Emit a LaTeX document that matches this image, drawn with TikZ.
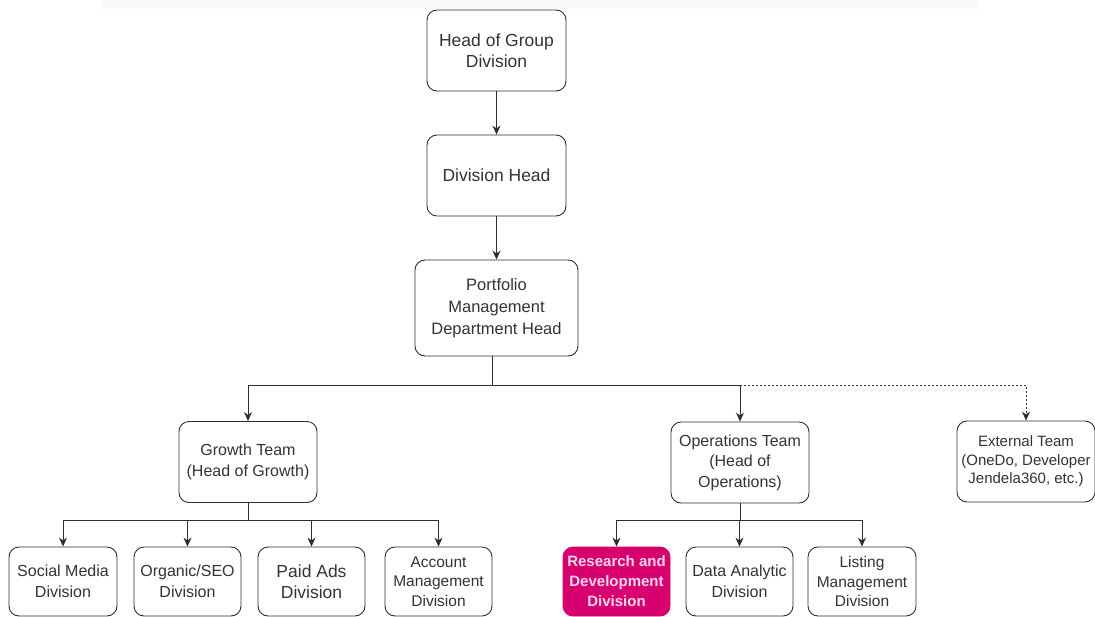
\documentclass[tikz,border=0pt]{standalone}
\usepackage{fontspec}
\setmainfont{Liberation Sans}
\usetikzlibrary{arrows.meta}
\definecolor{ln}{HTML}{2E2E2E}
\definecolor{txt}{HTML}{333333}
\definecolor{band}{HTML}{F8F9FB}
\definecolor{rdfill}{HTML}{D6006F}
\definecolor{rdtext}{HTML}{FAD7EA}
\begin{document}
\begin{tikzpicture}[x=1pt,y=-1pt,
  box/.style={draw=ln, line width=0.9pt, rounded corners=10pt, align=center,
    text=txt, inner sep=0pt, fill=white},
  big/.style={font=\fontsize{17.5}{21}\selectfont},
  mid/.style={font=\fontsize{16}{20.5}\selectfont},
  small/.style={font=\fontsize{15}{18.5}\selectfont},
  toprow/.style={box, minimum width=139pt, minimum height=81pt},
  team/.style={box, minimum width=138pt, minimum height=81pt},
  leaf/.style={box, minimum width=107pt, minimum height=69pt},
  arr/.style={-{Stealth[length=9pt,width=8pt]}, draw=ln, line width=1pt},
  dotarr/.style={arr, dash pattern=on 2pt off 2pt}]
\useasboundingbox (0,0) rectangle (1095,616);
\fill[band] (102,0) rectangle (979,9);

% upper chain
\node[toprow, big] (hg) at (496.5,50.5) {Head of Group\\Division};
\node[toprow, big] (dh) at (496.5,175.5) {Division Head};
\node[box, font=\fontsize{16.5}{22}\selectfont, minimum width=163pt, minimum height=96pt]
  (pm) at (496.5,308) {Portfolio\\Management\\Department Head};

% teams
\node[team, mid] (gt) at (248,462) {Growth Team\\(Head of Growth)};
\node[team, mid] (ops) at (740,462.5) {Operations Team\\(Head of\\Operations)};
\node[team, small] (ext) at (1026,461.5) {External Team\\(OneDo, Developer\\Jendela360, etc.)};

% divisions
\node[leaf, mid, minimum width=108pt] (sm) at (63,581.5) {Social Media\\Division};
\node[leaf, mid] (org) at (187.5,581.5) {Organic/SEO\\Division};
\node[leaf, big] (pa) at (311.5,581.5) {Paid Ads\\Division};
\node[leaf, small, font=\fontsize{15.5}{19.5}\selectfont] (am) at (438.5,581.5) {Account\\Management\\Division};
\node[leaf, fill=rdfill, draw=rdfill, text=rdtext, font=\bfseries\fontsize{15}{20}\selectfont]
  (rd) at (616.5,581.5) {Research and\\Development\\Division};
\node[leaf, mid] (da) at (739.5,581.5) {Data Analytic\\Division};
\node[leaf, mid, font=\fontsize{15.5}{19.5}\selectfont, minimum width=108pt] (lm) at (862,581.5) {Listing\\Management\\Division};

% bus coordinates
\coordinate (pmout) at (492,356);
\coordinate (bus1) at (492,385);
\coordinate (bus2) at (248,520);
\coordinate (bus3) at (740,520);

% connectors
\draw[arr] (hg.south) -- (dh.north);
\draw[arr] (dh.south) -- (pm.north);
\draw[arr] (pmout) -- (bus1) -| (gt.north);
\draw[arr] (bus1) -| (ops.north);
\draw[dotarr] (ops.north |- bus1) -| (ext.north);

\draw[draw=ln, line width=1pt] (gt.south) -- (bus2);
\foreach \n in {sm,org,pa,am}{\draw[arr] (bus2) -| (\n.north);}
\draw[draw=ln, line width=1pt] (ops.south) -- (bus3);
\foreach \n in {rd,da,lm}{\draw[arr] (bus3) -| (\n.north);}
\end{tikzpicture}
\end{document}
